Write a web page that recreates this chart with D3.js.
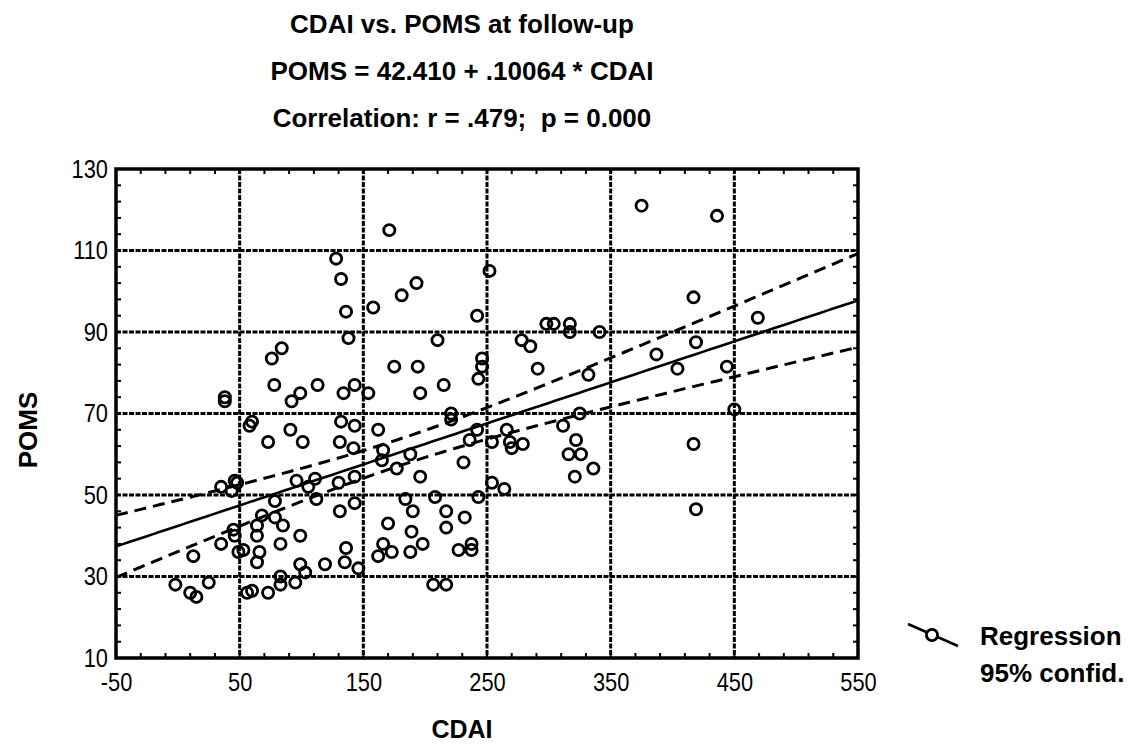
<!DOCTYPE html>
<html>
<head>
<meta charset="utf-8">
<script src="https://cdn.jsdelivr.net/npm/d3@7.9.0/dist/d3.min.js"></script>
<style>
  html, body { margin: 0; padding: 0; background: #fff; }
  svg { display: block; font-family: "Liberation Sans", Arial, sans-serif; }
</style>
</head>
<body>
<svg id="chart" width="1128" height="745"></svg>
<script>
// CDAI (x) and POMS (y)
const cdai = [
  128, 132, 136, 138, 84, 76, 78, 92, 99, 113, 134, 143, 38, 38,
  171, 252, 193, 181, 158, 242, 298, 304, 317, 317, 341, 210, 278, 285, 175, 194,
  246, 246, 243, 291, 332, 215, 196, 154, 221, 325,
  375, 436, 417, 469, 419, 387, 404, 444, 450,
  60, 58, 91, 73, 101, 132, 131, 143, 142, 46, 48, 35, 43.5, 96, 111, 105.5, 130, 143,
  112, 131, 143, 78.5, 68, 78.5, 85, 64, 45, 46, 64, 99, 35, 83, 53, 49, 66, 12.5, 136,
  64, 99, 119, 135, 103, 83, 83, 95, 73, 56, 60, -2, 10, 15, 25,
  221, 162, 166, 165, 177, 188, 196, 242, 236, 254, 266, 268.5, 270, 279, 231,
  311.5, 322, 316, 326, 321, 336, 254, 264, 208, 243, 184, 190, 217, 232, 170, 217,
  189, 166, 198, 173, 188, 162, 227, 237.5, 237.5, 146, 206.5, 217,
  417, 419
];
const poms = [
  108, 103, 95, 88.5, 86, 83.5, 77, 73, 75, 77, 75, 77, 73, 74,
  115, 105, 102, 99, 96, 94, 92, 92, 92, 90, 90, 88, 88, 86.5, 81.5, 81.5,
  83.5, 81.5, 78.5, 81, 79.5, 77, 75, 75, 70, 70,
  121, 118.5, 98.5, 93.5, 87.5, 84.5, 81, 81.5, 71,
  68, 67, 66, 63, 63, 68, 63, 67, 61.5, 53.5, 53, 52, 51, 53.5, 54, 52, 53, 54.5,
  49, 46, 48, 48.5, 45, 44.5, 42.5, 42.5, 41.5, 40, 40, 40, 38, 38, 36.5, 36, 36, 35, 37,
  33.5, 33, 33, 33.5, 31, 30, 28, 28.5, 26, 26, 26.5, 28, 26, 25, 28.5,
  68.5, 66, 61, 58.5, 56.5, 60, 54.5, 66, 63.5, 63, 66, 63, 61.5, 62.5, 58,
  67, 63.5, 60, 60, 54.5, 56.5, 53, 51.5, 49.5, 49.5, 49, 46, 46, 44.5, 43, 42,
  41, 38, 38, 36, 36, 35, 36.5, 38, 36.5, 32, 28, 28,
  62.5, 46.5
];

// regression from the chart header
const intercept = 42.410;
const slope = 0.10064;

const xTicks = [-50, 50, 150, 250, 350, 450, 550];
const yTicks = [10, 30, 50, 70, 90, 110, 130];

const titleLines = [
  'CDAI vs. POMS at follow-up',
  'POMS = 42.410 + .10064 * CDAI',
  'Correlation: r = .479;  p = 0.000'
];
const legendLabels = ['Regression', '95% confid.'];

const svg = d3.select('#chart');
const plot = { left: 116, right: 858, top: 169, bottom: 658 };

const x = d3.scaleLinear().domain([-50, 550]).range([plot.left, plot.right]);
const y = d3.scaleLinear().domain([10, 130]).range([plot.bottom, plot.top]);

// titles
svg.append('g').selectAll('text').data(titleLines).join('text')
  .attr('x', 462)
  .attr('y', (d, i) => 33 + i * 47)
  .attr('text-anchor', 'middle')
  .attr('font-size', 26)
  .attr('font-weight', 'bold')
  .style('white-space', 'pre')
  .text(d => d);

// grid lines (heavy dashes)
const grid = svg.append('g').attr('stroke', '#000').attr('stroke-width', 3).attr('stroke-dasharray', '5,1.5');
grid.selectAll('line.v').data(xTicks.slice(1, -1)).join('line')
  .attr('class', 'v')
  .attr('x1', d => x(d)).attr('x2', d => x(d))
  .attr('y1', plot.top).attr('y2', plot.bottom);
grid.selectAll('line.h').data(yTicks.slice(1, -1)).join('line')
  .attr('class', 'h')
  .attr('x1', plot.left).attr('x2', plot.right)
  .attr('y1', d => y(d)).attr('y2', d => y(d));

// minor inward ticks
const xMinor = d3.range(-50, 551, 20);
const yMinor = d3.range(10, 131, 4);
const mt = svg.append('g').attr('stroke', '#000').attr('stroke-width', 2);
mt.selectAll('line.xb').data(xMinor).join('line').attr('class', 'xb')
  .attr('x1', d => x(d)).attr('x2', d => x(d)).attr('y1', plot.bottom).attr('y2', plot.bottom - 5);
mt.selectAll('line.xt').data(xMinor).join('line').attr('class', 'xt')
  .attr('x1', d => x(d)).attr('x2', d => x(d)).attr('y1', plot.top).attr('y2', plot.top + 5);
mt.selectAll('line.yl').data(yMinor).join('line').attr('class', 'yl')
  .attr('y1', d => y(d)).attr('y2', d => y(d)).attr('x1', plot.left).attr('x2', plot.left + 5);
mt.selectAll('line.yr').data(yMinor).join('line').attr('class', 'yr')
  .attr('y1', d => y(d)).attr('y2', d => y(d)).attr('x1', plot.right).attr('x2', plot.right - 5);

// regression line and 95% confidence band of the mean, from the points
const n = cdai.length;
const xbar = d3.mean(cdai);
const sxx = d3.sum(cdai, v => (v - xbar) ** 2);
const fit = v => intercept + slope * v;
const sse = d3.sum(cdai, (v, i) => (poms[i] - fit(v)) ** 2);
const s = Math.sqrt(sse / (n - 2));
const tcrit = 1.976;
const half = v => tcrit * s * Math.sqrt(1 / n + (v - xbar) ** 2 / sxx);
const xs = d3.range(-50, 550.1, 5);

svg.append('clipPath').attr('id', 'clip').append('rect')
  .attr('x', plot.left).attr('y', plot.top)
  .attr('width', plot.right - plot.left).attr('height', plot.bottom - plot.top);

const lines = svg.append('g').attr('clip-path', 'url(#clip)').attr('fill', 'none').attr('stroke', '#000');
const lineGen = f => d3.line().x(d => x(d)).y(d => y(f(d)))(xs);
lines.append('path').attr('d', lineGen(fit)).attr('stroke-width', 2.6);
lines.append('path').attr('d', lineGen(v => fit(v) + half(v)))
  .attr('stroke-width', 3).attr('stroke-dasharray', '12,7');
lines.append('path').attr('d', lineGen(v => fit(v) - half(v)))
  .attr('stroke-width', 3).attr('stroke-dasharray', '12,7');

// points
svg.append('g').selectAll('circle').data(cdai).join('circle')
  .attr('cx', d => x(d))
  .attr('cy', (d, i) => y(poms[i]))
  .attr('r', 5.6)
  .attr('fill', 'none')
  .attr('stroke', '#000')
  .attr('stroke-width', 2.8);

// frame
svg.append('rect')
  .attr('x', plot.left).attr('y', plot.top)
  .attr('width', plot.right - plot.left).attr('height', plot.bottom - plot.top)
  .attr('fill', 'none').attr('stroke', '#000').attr('stroke-width', 3.5);

// tick labels, narrowed like the original's condensed digits
const xAxis = svg.append('g')
  .attr('transform', `translate(0,${plot.bottom})`)
  .call(d3.axisBottom(x).tickValues(xTicks).tickSize(0).tickPadding(15).tickFormat(d => String(d)));
const yAxis = svg.append('g')
  .attr('transform', `translate(${plot.left},0)`)
  .call(d3.axisLeft(y).tickValues(yTicks).tickSize(0).tickPadding(8).tickFormat(d => String(d)));
[xAxis, yAxis].forEach(a => {
  a.select('.domain').remove();
  a.selectAll('text')
    .attr('font-family', '"Liberation Sans", Arial, sans-serif')
    .attr('font-size', 26)
    .attr('fill', '#000')
    .attr('transform', 'scale(0.84,1)');
});
yAxis.selectAll('text').attr('x', -8 / 0.84);

svg.append('text')
  .attr('x', 462).attr('y', 738)
  .attr('text-anchor', 'middle')
  .attr('font-size', 25).attr('font-weight', 'bold')
  .text('CDAI');
svg.append('text')
  .attr('transform', 'translate(37,430) rotate(-90)')
  .attr('text-anchor', 'middle')
  .attr('font-size', 26).attr('font-weight', 'bold')
  .text('POMS');

// legend
const lg = svg.append('g');
lg.append('line').attr('x1', 908).attr('y1', 624).attr('x2', 958).attr('y2', 646)
  .attr('stroke', '#000').attr('stroke-width', 2.6);
lg.append('circle').attr('cx', 932).attr('cy', 635).attr('r', 5.6)
  .attr('fill', '#fff').attr('stroke', '#000').attr('stroke-width', 2.8);
lg.selectAll('text').data(legendLabels).join('text')
  .attr('x', 980)
  .attr('y', (d, i) => 645 + i * 37)
  .attr('font-size', 26).attr('font-weight', 'bold')
  .text(d => d);
</script>
</body>
</html>
